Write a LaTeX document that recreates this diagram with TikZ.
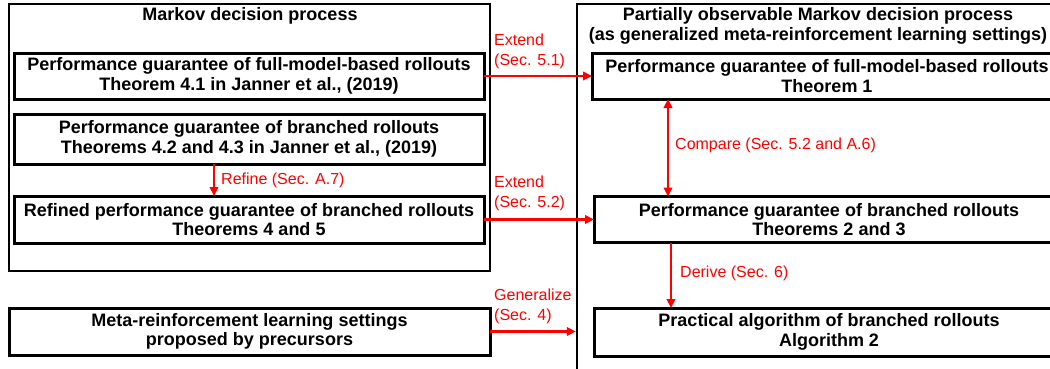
\documentclass[tikz,border=0pt]{standalone}
\usepackage{fontspec}
\setmainfont{Liberation Sans}
\usetikzlibrary{positioning}
\usetikzlibrary{calc}
\usetikzlibrary{arrows.meta}

\tikzset{
  frame/.style={draw, line width=2.4pt, inner sep=0pt},
  resbox/.style={draw, line width=3pt, inner sep=0pt, outer sep=0pt, align=center, minimum width=470pt, minimum height=46pt, font=\fontsize{18}{19.5}\selectfont\bfseries},
  boxtitle/.style={inner sep=0pt, align=center, font=\fontsize{18}{19.5}\selectfont\bfseries},
  relarrow/.style={red, line width=2.2pt, -{Triangle[length=9pt,width=8.5pt]}},
  rellabel/.style={red, inner sep=0pt, align=left, font=\fontsize{16}{20}\selectfont}
}

\begin{document}
\begin{tikzpicture}[x=1pt, y=-1pt]
\useasboundingbox (0,0) rectangle (1050,368);
\clip (0,0) rectangle (1050,368);

% Cornici
\node[frame, minimum width=481pt, minimum height=267pt] (mdp) at (249.5,137.5) {};
\node[frame, minimum width=485pt, minimum height=380pt] (pomdp) at (819.5,194) {};
\node[boxtitle] (mdptitle) at (250,16) {Markov decision process};
\node[boxtitle] (pomdptitle) at (818,26) {Partially observable Markov decision process\\(as generalized meta-reinforcement learning settings)};

% Risultati (MDP)
\node[resbox] (fullmdp) at (249,76) {Performance guarantee of full-model-based rollouts\\Theorem 4.1 in Janner et al., (2019)};
\node[resbox, minimum height=50pt, below=15pt of fullmdp] (branchmdp) {Performance guarantee of branched rollouts\\Theorems 4.2 and 4.3 in Janner et al., (2019)};
\node[resbox, minimum height=47pt, below=32pt of branchmdp] (refined) {Refined performance guarantee of branched rollouts\\Theorems 4 and 5};
\node[resbox, minimum width=481pt, minimum height=47pt] (meta) at (249.5,331.5) {Meta-reinforcement learning settings\\proposed by precursors};

% Risultati (POMDP)
\node[resbox, anchor=west] (fullpomdp) at (592,76) {Performance guarantee of full-model-based rollouts\\Theorem 1};
\node[resbox, anchor=west] (branchpomdp) at (594,219.5) {Performance guarantee of branched rollouts\\Theorems 2 and 3};
\node[resbox, anchor=west, minimum height=48pt] (algo) at (594,332) {Practical algorithm of branched rollouts\\Algorithm 2};

% Frecce
\coordinate (refx) at (214,0);
\coordinate (cmpx) at (668,0);
\coordinate (derx) at (671,0);
\draw[relarrow] (fullmdp.east) -- (fullpomdp.west);
\draw[relarrow] (refined.east) -- (branchpomdp.west);
\draw[relarrow] (branchmdp.south -| refx) -- (refined.north -| refx);
\draw[relarrow, {Triangle[length=9pt,width=8.5pt]}-{Triangle[length=9pt,width=8.5pt]}] (fullpomdp.south -| cmpx) -- (branchpomdp.north -| cmpx);
\draw[relarrow] (branchpomdp.south -| derx) -- (algo.north -| derx);
\draw[relarrow] (meta.east) -- (meta.east -| pomdp.west);

\node[rellabel, anchor=west] (extlab1) at (494,51) {Extend\\(Sec. 5.1)};
\node[rellabel, anchor=west] (extlab2) at (494,193.5) {Extend\\(Sec. 5.2)};
\node[rellabel, anchor=west] (reflab) at (221,180) {Refine (Sec. A.7)};
\node[rellabel, anchor=west] (cmplab) at (675,145) {Compare (Sec. 5.2 and A.6)};
\node[rellabel, anchor=west] (derlab) at (680,273) {Derive (Sec. 6)};
\node[rellabel, anchor=west] (genlab) at (494,306.5) {Generalize\\(Sec. 4)};
\end{tikzpicture}
\end{document}
